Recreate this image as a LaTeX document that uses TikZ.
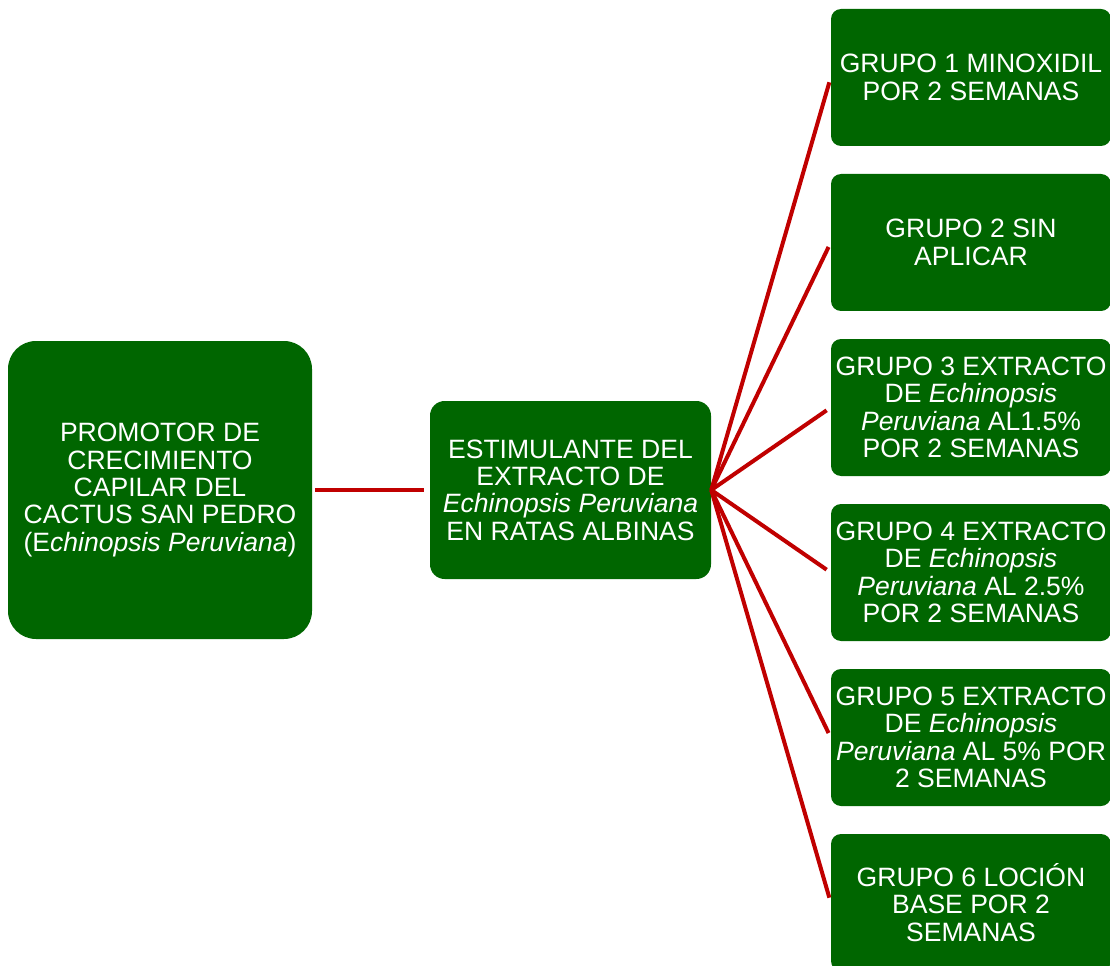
\documentclass[tikz,border=0pt]{standalone}
\usepackage{fontspec}
\setmainfont{Liberation Sans}
\usetikzlibrary{positioning}
\definecolor{verdecaja}{RGB}{0, 102, 0}
\definecolor{rojolinea}{RGB}{192, 0, 0}

\begin{document}
\begin{tikzpicture}[x=0.75pt, y=-0.75pt,
    caja/.style={rectangle, fill=verdecaja, text=white, align=center, inner sep=0pt,
                 font=\fontsize{19.9}{20.5}\selectfont},
    grupo/.style={caja, minimum width=210pt, minimum height=102.75pt, rounded corners=7.5pt},
    conector/.style={draw=rojolinea, line width=3pt}]
                % Frame
                \useasboundingbox (0,0) rectangle (1110,966);

                % Main boxes
                \node[caja, minimum width=228pt, minimum height=223.5pt, rounded corners=21pt] (promotor) at (160,490)
                    {PROMOTOR DE\\CRECIMIENTO\\CAPILAR DEL\\CACTUS SAN PEDRO\\(E\textit{chinopsis Peruviana})};
                \node[caja, minimum width=210.75pt, minimum height=133.5pt, rounded corners=11pt] (estimulante) at (570.5,490)
                    {ESTIMULANTE DEL\\EXTRACTO DE\\\textit{Echinopsis Peruviana}\\EN RATAS ALBINAS};

                % Groups
                \node[grupo] (g1) at (971,77.5) {GRUPO 1 MINOXIDIL\\POR 2 SEMANAS};
                \node[grupo] (g2) at (971,242.5) {GRUPO 2 SIN\\APLICAR};
                \node[grupo] (g3) at (971,407.5) {GRUPO 3 EXTRACTO\\DE \textit{Echinopsis}\\\textit{Peruviana} AL1.5\%\\POR 2 SEMANAS};
                \node[grupo] (g4) at (971,572.5) {GRUPO 4 EXTRACTO\\DE \textit{Echinopsis}\\\textit{Peruviana} AL 2.5\%\\POR 2 SEMANAS};
                \node[grupo] (g5) at (971,737.5) {GRUPO 5 EXTRACTO\\DE \textit{Echinopsis}\\\textit{Peruviana} AL 5\% POR\\2 SEMANAS};
                \node[grupo] (g6) at (971,902.5) {GRUPO 6 LOCIÓN\\BASE POR 2\\SEMANAS};

                % Connectors
                \draw[conector, shorten <=2.25pt, shorten >=4.5pt] (promotor.east) -- (estimulante.west);
                \foreach \i in {1,...,6}
                    \draw[conector, shorten >=3.75pt] (estimulante.east) -- (g\i.west);
            \end{tikzpicture}
\end{document}
